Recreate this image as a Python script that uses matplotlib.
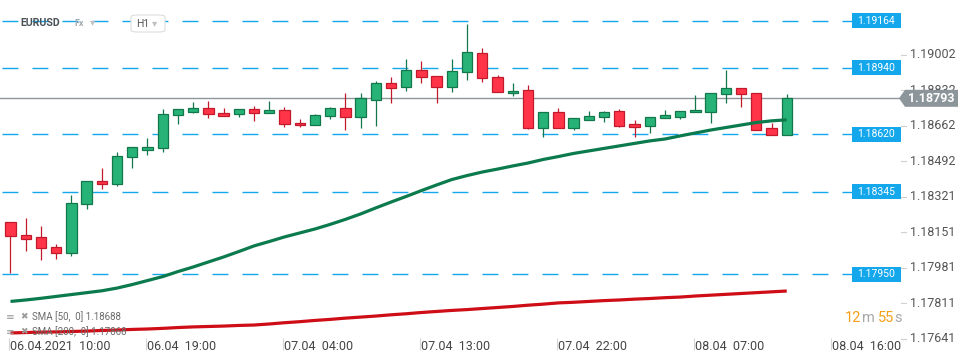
import matplotlib

matplotlib.use("Agg")

import matplotlib.pyplot as plt
import matplotlib.transforms as mtransforms
import numpy as np
from matplotlib.patches import FancyBboxPatch, Polygon, Rectangle

plt.rcParams["font.family"] = ["Roboto", "DejaVu Sans"]

# EURUSD H1 candles, 06.04 10:00 -> 08.04 13:00
opens = [
    1.18199, 1.18137, 1.18127, 1.18079, 1.18051, 1.18285, 1.18395, 1.18381,
    1.18510, 1.18547, 1.18554, 1.18712, 1.18729, 1.18745, 1.18721, 1.18716,
    1.18740, 1.18721, 1.18736, 1.18673, 1.18664, 1.18707, 1.18745, 1.18702,
    1.18783, 1.18865, 1.18846, 1.18927, 1.18898, 1.18846, 1.18918, 1.19009,
    1.18894, 1.18817, 1.18831, 1.18652, 1.18726, 1.18652, 1.18688, 1.18702,
    1.18731, 1.18669, 1.18662, 1.18697, 1.18705, 1.18726, 1.18729, 1.18812,
    1.18841, 1.18817, 1.18649, 1.18619,
]
highs = [
    1.18199, 1.18221, 1.18181, 1.18095, 1.18330, 1.18395, 1.18459, 1.18536,
    1.18558, 1.18603, 1.18742, 1.18740, 1.18775, 1.18782, 1.18747, 1.18740,
    1.18756, 1.18782, 1.18751, 1.18694, 1.18718, 1.18751, 1.18818, 1.18818,
    1.18876, 1.18895, 1.18981, 1.18972, 1.18898, 1.18981, 1.19149, 1.19034,
    1.18903, 1.18866, 1.18857, 1.18726, 1.18745, 1.18697, 1.18731, 1.18732,
    1.18742, 1.18689, 1.18702, 1.18737, 1.18731, 1.18809, 1.18817, 1.18929,
    1.18841, 1.18817, 1.18676, 1.18814,
]
lows = [
    1.17955, 1.18063, 1.18020, 1.18025, 1.18039, 1.18264, 1.18360, 1.18374,
    1.18459, 1.18523, 1.18537, 1.18671, 1.18724, 1.18700, 1.18708, 1.18705,
    1.18686, 1.18721, 1.18657, 1.18657, 1.18664, 1.18695, 1.18643, 1.18652,
    1.18662, 1.18772, 1.18829, 1.18868, 1.18772, 1.18825, 1.18882, 1.18873,
    1.18822, 1.18806, 1.18647, 1.18609, 1.18652, 1.18643, 1.18688, 1.18681,
    1.18657, 1.18609, 1.18628, 1.18697, 1.18695, 1.18726, 1.18676, 1.18772,
    1.18753, 1.18643, 1.18619, 1.18619,
]
closes = [
    1.18132, 1.18121, 1.18075, 1.18051, 1.18290, 1.18395, 1.18381, 1.18515,
    1.18558, 1.18558, 1.18716, 1.18740, 1.18745, 1.18716, 1.18710, 1.18740,
    1.18721, 1.18736, 1.18669, 1.18664, 1.18712, 1.18745, 1.18702, 1.18793,
    1.18865, 1.18841, 1.18927, 1.18894, 1.18846, 1.18922, 1.19013, 1.18889,
    1.18822, 1.18827, 1.18652, 1.18726, 1.18652, 1.18697, 1.18707, 1.18726,
    1.18662, 1.18657, 1.18702, 1.18712, 1.18731, 1.18736, 1.18817, 1.18841,
    1.18812, 1.18643, 1.18619, 1.18793,
]
sma50 = [
    1.17820, 1.17827, 1.17835, 1.17844, 1.17853, 1.17862, 1.17871, 1.17884,
    1.17901, 1.17920, 1.17939, 1.17963, 1.17985, 1.18009, 1.18033, 1.18059,
    1.18086, 1.18107, 1.18129, 1.18148, 1.18167, 1.18189, 1.18213, 1.18239,
    1.18268, 1.18296, 1.18323, 1.18351, 1.18378, 1.18404, 1.18423, 1.18440,
    1.18454, 1.18469, 1.18483, 1.18500, 1.18514, 1.18529, 1.18541, 1.18553,
    1.18565, 1.18577, 1.18589, 1.18598, 1.18613, 1.18627, 1.18641, 1.18653,
    1.18665, 1.18677, 1.18685, 1.18690,
]
sma200 = [
    1.17669, 1.17671, 1.17673, 1.17674, 1.17676, 1.17678, 1.17681, 1.17683,
    1.17686, 1.17688, 1.17691, 1.17695, 1.17698, 1.17700, 1.17702, 1.17705,
    1.17707, 1.17712, 1.17718, 1.17723, 1.17729, 1.17734, 1.17740, 1.17745,
    1.17750, 1.17756, 1.17761, 1.17767, 1.17772, 1.17777, 1.17781, 1.17786,
    1.17791, 1.17796, 1.17802, 1.17807, 1.17813, 1.17816, 1.17820, 1.17824,
    1.17827, 1.17831, 1.17834, 1.17838, 1.17841, 1.17846, 1.17850, 1.17854,
    1.17858, 1.17862, 1.17866, 1.17870,
]
price_levels = [1.19164, 1.18940, 1.18620, 1.18345, 1.17950]
last_price = 1.18793
y_ticks = [1.19002, 1.18832, 1.18662, 1.18492, 1.18321, 1.18151, 1.17981, 1.17811, 1.17641]
x_tick_positions = [0, 9, 18, 27, 36, 45, 54]
x_tick_labels = [
    "06.04.2021  10:00", "06.04  19:00", "07.04  04:00", "07.04  13:00",
    "07.04  22:00", "08.04  07:00", "08.04  16:00",
]
legend_lines = ["SMA [50,  0] 1.18688", "SMA [200,  0] 1.17868"]

# pixel layout of the screenshot
W, H = 970, 364
FIRST_PX, STEP_PX = 10.5, 15.22
REF_PRICE, REF_Y = 1.17950, 274.3
PPX = 0.0000479  # price per pixel

UP_FILL, UP_EDGE = "#27b378", "#12774b"
DN_FILL, DN_EDGE = "#ff3448", "#c01a2c"
LEVEL_BLUE = "#14a7ec"
GREY = "#8c9599"


def fx(px):
    return px / W


def fy(py):
    return 1 - py / H


def price_at(py):
    return REF_PRICE - (py - REF_Y) * PPX


fig = plt.figure(figsize=(W / 100, H / 100), dpi=100)
ax = fig.add_axes([0, 0, 1, 1])
ax.set_axis_off()
ax.set_xlim(-FIRST_PX / STEP_PX, (W - FIRST_PX) / STEP_PX)
ax.set_ylim(price_at(H), price_at(0))
blend = mtransforms.blended_transform_factory(ax.transAxes, ax.transData)

o = np.array(opens)
c = np.array(closes)
idx = np.arange(len(o))
up = c >= o
edges = np.where(up, UP_EDGE, DN_EDGE)
fills = np.where(up, UP_FILL, DN_FILL)
body_low = np.minimum(o, c)
body_h = np.maximum(np.abs(c - o), 2 * PPX)

# support / resistance levels
for level in price_levels:
    ax.plot([0, fx(852)], [level, level], transform=blend, color=LEVEL_BLUE,
            lw=1.0, linestyle=(20.2, (11.5, 10.1)), zorder=1)
    ax.add_patch(Rectangle((fx(852), level - 7.5 * PPX), 49 / W, 15 * PPX,
                           transform=blend, facecolor=LEVEL_BLUE, edgecolor="none", zorder=6))
    ax.text(fx(876.5), level, f"{level:.5f}", transform=blend, ha="center", va="center",
            color="white", fontsize=7.5, zorder=7)

ax.plot([0, fx(899)], [last_price, last_price], transform=blend, color=GREY, lw=1.0, zorder=2)

# legend under the moving averages
for i, line in enumerate(legend_lines):
    yy = fy(316.7 + 15 * i)
    fig.text(fx(6), yy, "≡", fontsize=7.5, color="#9a9a9a", va="center", family="DejaVu Sans")
    fig.text(fx(20), yy, "✖", fontsize=6.5, color="#9a9a9a", va="center", family="DejaVu Sans")
    fig.text(fx(32), yy, line, fontsize=7, color="#6b6b6b", va="center")

ax.vlines(idx, lows, highs, colors=edges, lw=0.9, zorder=3)
ax.bar(idx, body_h, bottom=body_low, width=0.68, color=fills, edgecolor=edges,
       linewidth=0.9, zorder=4)

ax.plot(idx, sma50, color="#0b7a4d", lw=2.3, zorder=5, solid_capstyle="butt")
ax.plot(idx, sma200, color="#cf0d16", lw=2.3, zorder=5, solid_capstyle="butt")

# right price scale
for t in y_ticks:
    ax.plot([fx(901), fx(906)], [t, t], transform=blend, color="#d0d0d0", lw=0.8, zorder=1)
    ax.text(fx(910), t, f"{t:.5f}", transform=blend, ha="left", va="center",
            fontsize=9, color="#555555", zorder=2)

tip = 8.5 * PPX
ax.add_patch(Polygon([(fx(899), last_price), (fx(905), last_price + tip),
                      (fx(958), last_price + tip), (fx(958), last_price - tip),
                      (fx(905), last_price - tip)], closed=True, transform=blend,
                     facecolor=GREY, edgecolor="none", zorder=8))
ax.text(fx(931.5), last_price, f"{last_price:.5f}", transform=blend, ha="center",
        va="center", fontsize=9, fontweight="bold", color="white", zorder=9)

# time axis
for pos, label in zip(x_tick_positions, x_tick_labels):
    ax.vlines(pos - 0.12, price_at(338), price_at(350), colors="#d6d6d6", lw=0.8)
    ax.text(pos, price_at(346.5), label, ha="left", va="center", fontsize=9, color="#444444")

# countdown
for px, s, col in [(845, "12", "#f5a01a"), (862, "m", "#a8a8a8"),
                   (878, "55", "#f5a01a"), (894.5, "s", "#a8a8a8")]:
    fig.text(fx(px), fy(318.5), s, fontsize=10.5, color=col, va="center", ha="left")

# instrument header
fig.text(fx(20.5), fy(23.5), "EURUSD", fontsize=7.6, fontweight="bold", color="#4a5258", va="center")
fig.text(fx(74), fy(24), "Fx", fontsize=6.5, fontweight="bold", color="#a4abb0", va="center")
fig.text(fx(90), fy(22.5), "▾", fontsize=7.5, color="#c0c0c0", va="center", family="DejaVu Sans")
fig.patches.append(FancyBboxPatch((fx(131), fy(32)), 34 / W, 17 / H,
                                  boxstyle="round,pad=0,rounding_size=0.006",
                                  transform=fig.transFigure, facecolor="white",
                                  edgecolor="#dddddd", lw=0.8, zorder=10))
fig.text(fx(136), fy(24), "H1", fontsize=7.5, color="#555555", va="center", zorder=11)
fig.text(fx(152), fy(23), "▾", fontsize=7.5, color="#c0c0c0", va="center", zorder=11,
         family="DejaVu Sans")

fig.savefig("out.png", dpi=100, facecolor="white")
